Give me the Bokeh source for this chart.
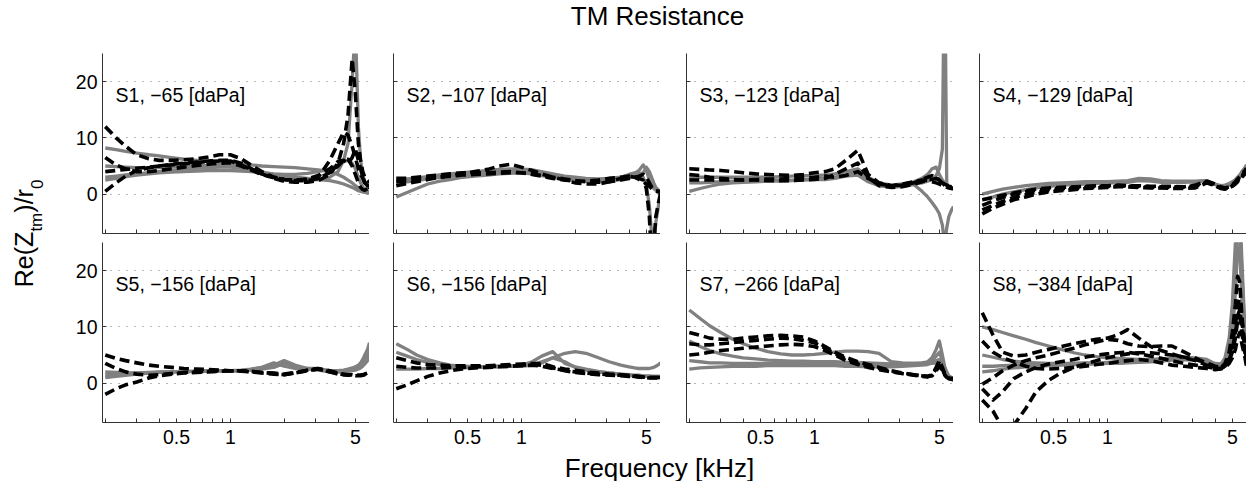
from bokeh.plotting import figure
from bokeh.models import Range1d, FixedTicker, Label
from bokeh.layouts import column, row
from bokeh.embed import file_html
from bokeh.resources import INLINE
from bokeh.core.validation import silence
from bokeh.core.validation.warnings import MISSING_RENDERERS

silence(MISSING_RENDERERS, True)

# ---------------- data ----------------
FREQ = [0.2, 0.23, 0.26, 0.3, 0.35, 0.4, 0.47, 0.55, 0.65, 0.75, 0.87, 1.0, 1.15, 1.3, 1.5, 1.75,
        2.0, 2.3, 2.7, 3.1, 3.6, 4.0, 4.3, 4.55, 4.8, 5.0, 5.2, 5.35, 5.5, 5.65, 5.85, 6.0]

X_TICKS = [0.2, 0.3, 0.4, 0.5, 0.6, 0.7, 0.8, 0.9, 1, 2, 3, 4, 5, 6]
X_TICK_LABELS = {0.5: "0.5", 1: "1", 5: "5"}
Y_TICKS = [0, 10, 20]
PANEL_TITLES = ["S1, \u221265 [daPa]", "S2, \u2212107 [daPa]", "S3, \u2212123 [daPa]", "S4, \u2212129 [daPa]",
                "S5, \u2212156 [daPa]", "S6, \u2212156 [daPa]", "S7, \u2212266 [daPa]", "S8, \u2212384 [daPa]"]

S1_SOLID = [
    [8.2, 7.9, 7.6, 7.3, 7.0, 6.8, 6.5, 6.2, 6.0, 5.8, 5.6, 5.5, 5.3, 5.2, 5.0, 4.9, 4.8, 4.7, 4.5, 4.3, 4.0,
     3.5, 3.0, 2.5, 2.0, 1.5, 1.1, 0.8, 0.5, 0.3, 0.2, 0.2],
    [5.0, 4.9, 4.8, 4.7, 4.7, 4.7, 4.8, 4.9, 5.0, 5.1, 5.1, 5.0, 4.7, 4.2, 3.6, 3.0, 2.7, 2.5, 2.5, 2.6, 3.0,
     4.0, 6.0, 9.0, 20.0, 30.0, 12.0, 6.0, 3.5, 2.2, 1.4, 1.0],
    [3.0, 3.2, 3.4, 3.6, 3.8, 4.0, 4.2, 4.4, 4.6, 4.7, 4.8, 4.8, 4.6, 4.3, 3.9, 3.5, 3.2, 3.0, 2.8, 2.6, 2.4,
     2.1, 1.8, 1.5, 1.2, 0.9, 0.6, 0.5, 0.4, 0.3, 0.3, 0.3],
    [2.5, 2.8, 3.1, 3.4, 3.6, 3.8, 3.9, 4.0, 4.1, 4.2, 4.2, 4.2, 4.1, 4.0, 3.8, 3.6, 3.5, 3.5, 3.7, 4.0, 4.5,
     5.2, 5.8, 6.0, 5.5, 4.5, 3.0, 2.0, 1.3, 0.8, 0.5, 0.3],
]
S1_DASHED = [
    [12.0, 10.0, 8.5, 7.0, 6.3, 6.0, 6.0, 6.1, 6.3, 6.6, 7.0, 7.0, 6.3, 5.2, 4.0, 3.0, 2.6, 2.5, 2.6, 3.0, 6.0,
     9.0, 11.0, 10.5, 8.5, 6.5, 4.5, 3.5, 2.8, 2.0, 1.5, 1.0],
    [0.5, 2.0, 3.2, 4.2, 4.7, 5.0, 5.3, 5.5, 5.7, 5.9, 6.0, 6.0, 5.5, 4.6, 3.6, 2.8, 2.3, 2.1, 2.1, 2.4, 3.5,
     5.5, 9.0, 14.0, 24.0, 18.0, 9.0, 6.0, 4.0, 3.0, 2.5, 2.0],
    [4.0, 4.2, 4.4, 4.6, 4.8, 5.0, 5.2, 5.4, 5.6, 5.8, 5.9, 5.9, 5.2, 4.4, 3.6, 3.0, 2.6, 2.5, 2.7, 3.3, 4.5,
     5.8, 6.0, 5.5, 6.5, 8.0, 6.0, 4.5, 3.0, 2.0, 1.5, 1.5],
    [6.5, 5.2, 4.5, 4.0, 4.0, 4.2, 4.5, 4.8, 5.1, 5.3, 5.5, 5.6, 5.0, 4.3, 3.5, 2.9, 2.6, 2.4, 2.4, 2.8, 3.8,
     5.0, 6.0, 6.2, 5.0, 3.5, 2.0, 1.2, 0.8, 0.7, 1.0, 1.8],
]

S2_SOLID = [
    [2.5, 2.7, 2.9, 3.1, 3.4, 3.6, 3.8, 4.0, 4.2, 4.4, 4.5, 4.5, 4.3, 4.0, 3.6, 3.2, 3.0, 2.8, 2.7, 2.8, 3.0,
     3.5, 3.8, 3.6, 3.8, 4.8, 4.0, 3.0, 2.0, 1.2, 0.7, 0.5],
    [-0.5, 0.3, 1.0, 1.8, 2.3, 2.6, 3.0, 3.2, 3.4, 3.6, 3.7, 3.8, 3.6, 3.3, 3.0, 2.6, 2.4, 2.3, 2.2, 2.4, 2.6,
     2.9, 3.2, 3.6, 3.0, 1.5, -2.0, -7.0, -10.0, -5.0, -2.0, -0.4],
    [2.0, 2.2, 2.4, 2.7, 3.0, 3.2, 3.4, 3.6, 3.8, 4.0, 4.1, 4.1, 3.9, 3.6, 3.3, 2.9, 2.6, 2.4, 2.4, 2.6, 3.0,
     3.4, 3.7, 4.2, 5.2, 4.2, 2.5, 1.5, 1.0, 0.7, 0.6, 0.5],
]
S2_DASHED = [
    [1.5, 1.9, 2.2, 2.6, 3.0, 3.3, 3.6, 4.0, 4.4, 5.0, 5.3, 4.8, 4.2, 3.6, 3.0, 2.5, 2.0, 1.8, 1.8, 2.2, 2.8,
     3.2, 3.0, 2.6, 2.2, 1.8, 1.4, 1.0, 0.7, 0.5, 0.4, 0.4],
    [2.8, 2.8, 3.0, 3.2, 3.4, 3.6, 3.8, 3.8, 3.8, 3.9, 4.0, 3.8, 3.5, 3.2, 2.8, 2.5, 2.3, 2.3, 2.5, 2.8, 3.0,
     3.2, 3.0, 2.8, 2.5, 1.0, -4.0, -12.0, -9.0, -4.0, -1.5, 0.2],
    [2.2, 2.4, 2.6, 2.8, 3.0, 3.2, 3.4, 3.5, 3.6, 3.7, 3.8, 3.8, 3.6, 3.3, 3.0, 2.7, 2.4, 2.2, 2.1, 2.2, 2.5,
     2.8, 3.0, 3.2, 3.5, 3.0, 2.0, 1.3, 0.9, 0.6, 0.5, 0.4],
]

S3_SOLID = [
    [2.0, 2.0, 2.1, 2.2, 2.3, 2.4, 2.4, 2.5, 2.5, 2.5, 2.6, 2.7, 2.8, 3.0, 3.5, 4.2, 2.5, 1.5, 1.3, 1.5, 1.8,
     2.0, 2.3, 2.7, 3.3, 4.5, 8.0, 45.0, 2.0, 1.2, 1.0, 1.0],
    [0.5, 1.0, 1.4, 1.8, 2.0, 2.1, 2.2, 2.3, 2.3, 2.4, 2.5, 2.6, 2.6, 2.8, 3.2, 3.4, 2.2, 1.5, 1.2, 1.4, 1.7,
     0.5, -0.5, -1.5, -2.5, -3.5, -5.5, -9.0, -6.0, -4.0, -2.8, -2.2],
    [3.0, 3.0, 3.0, 3.0, 3.0, 3.0, 3.0, 3.0, 3.1, 3.2, 3.3, 3.3, 3.4, 3.6, 4.0, 4.5, 3.0, 2.0, 1.6, 1.8, 2.2,
     2.8, 3.5, 4.5, 4.8, 3.5, 2.5, 2.0, 1.5, 1.2, 1.0, 1.0],
]
S3_DASHED = [
    [4.5, 4.4, 4.3, 4.2, 4.0, 3.8, 3.6, 3.5, 3.4, 3.3, 3.5, 3.8, 4.0, 4.5, 6.0, 7.8, 3.5, 2.0, 1.5, 1.8, 2.2,
     2.5, 2.4, 2.2, 2.0, 1.8, 1.5, 1.3, 1.2, 1.1, 1.0, 1.0],
    [3.5, 3.3, 3.0, 2.8, 2.6, 2.5, 2.5, 2.4, 2.4, 2.4, 2.5, 2.6, 2.8, 3.5, 4.5, 5.5, 3.0, 1.5, 1.2, 1.3, 1.8,
     2.2, 2.5, 2.6, 2.8, 2.5, 2.0, 1.8, 1.6, 1.4, 1.3, 1.3],
    [2.5, 2.5, 2.5, 2.5, 2.5, 2.5, 2.6, 2.7, 2.7, 2.8, 2.9, 3.0, 3.2, 3.0, 3.3, 4.0, 2.8, 1.8, 1.5, 1.6, 2.0,
     2.6, 3.0, 3.3, 3.0, 2.5, 2.0, 1.6, 1.4, 1.2, 1.1, 1.0],
]

S4_SOLID = [
    [0.0, 0.5, 0.9, 1.2, 1.5, 1.7, 1.9, 2.0, 2.1, 2.2, 2.2, 2.2, 2.3, 2.4, 2.8, 2.7, 2.4, 2.3, 2.3, 2.3, 2.4,
     1.8, 1.5, 1.6, 1.9, 2.2, 2.6, 3.0, 3.4, 4.0, 4.6, 5.2],
    [-1.0, -0.5, 0.0, 0.4, 0.8, 1.1, 1.4, 1.6, 1.7, 1.8, 1.9, 2.0, 2.0, 2.1, 2.4, 2.3, 2.1, 2.1, 2.1, 2.2, 2.4,
     1.7, 1.3, 1.3, 1.6, 1.9, 2.2, 2.6, 3.0, 3.5, 4.0, 4.5],
]
S4_DASHED = [
    [-3.5, -2.5, -1.8, -1.0, -0.5, 0.0, 0.4, 0.6, 0.8, 1.0, 1.1, 1.2, 1.3, 1.3, 1.2, 1.1, 1.1, 1.0, 1.0, 1.1, 2.0,
     1.5, 1.0, 0.9, 1.1, 1.4, 1.8, 2.2, 2.6, 3.0, 3.5, 4.0],
    [-2.0, -1.2, -0.6, 0.0, 0.4, 0.7, 0.9, 1.0, 1.2, 1.3, 1.4, 1.4, 1.5, 1.4, 1.4, 1.3, 1.3, 1.3, 1.3, 1.5, 2.2,
     1.6, 1.1, 1.0, 1.2, 1.6, 2.0, 2.4, 2.9, 3.3, 3.8, 4.2],
    [-1.0, -0.6, -0.2, 0.2, 0.6, 0.9, 1.1, 1.2, 1.3, 1.4, 1.5, 1.5, 1.6, 1.5, 1.5, 1.4, 1.4, 1.4, 1.3, 1.6, 2.3,
     1.8, 1.3, 1.1, 1.3, 1.7, 2.2, 2.7, 3.1, 3.6, 4.1, 4.6],
    [-2.8, -2.0, -1.3, -0.6, -0.1, 0.3, 0.6, 0.8, 1.0, 1.1, 1.2, 1.3, 1.4, 1.4, 1.3, 1.2, 1.2, 1.2, 1.2, 1.3, 2.1,
     1.5, 1.1, 0.9, 1.2, 1.5, 1.9, 2.3, 2.8, 3.2, 3.7, 4.1],
]

S5_SOLID = [
    [1.0, 1.2, 1.4, 1.6, 1.8, 1.9, 2.0, 2.1, 2.1, 2.2, 2.2, 2.2, 2.3, 2.5, 2.8, 3.2, 4.0, 3.2, 2.6, 2.6, 2.2,
     2.2, 2.3, 2.5, 2.7, 2.9, 3.2, 3.6, 4.2, 5.0, 6.0, 7.2],
    [1.5, 1.6, 1.7, 1.8, 1.9, 2.0, 2.0, 2.1, 2.1, 2.2, 2.2, 2.2, 2.2, 2.4, 2.8, 3.6, 3.0, 2.6, 2.6, 2.5, 2.2,
     2.0, 2.1, 2.3, 2.5, 2.7, 2.9, 3.2, 3.6, 4.2, 5.0, 6.0],
    [2.0, 1.9, 1.8, 1.8, 1.8, 1.9, 2.0, 2.0, 2.1, 2.1, 2.2, 2.2, 2.2, 2.3, 2.5, 2.8, 3.5, 3.0, 2.5, 2.3, 2.0,
     2.0, 2.0, 2.1, 2.2, 2.3, 2.5, 2.7, 3.0, 3.4, 4.0, 5.0],
]
S5_DASHED = [
    [5.0, 4.4, 4.0, 3.6, 3.2, 3.0, 2.8, 2.6, 2.5, 2.4, 2.3, 2.2, 2.1, 2.0, 1.8, 1.6, 1.5, 1.8, 2.3, 2.5, 2.0,
     1.6, 1.5, 1.5, 1.5, 1.4, 1.4, 1.4, 1.5, 1.6, 1.8, 2.0],
    [-2.0, -1.0, -0.3, 0.2, 0.9, 1.3, 1.6, 1.8, 1.9, 2.0, 2.1, 2.2, 2.2, 2.1, 1.9, 1.7, 1.5, 1.8, 2.2, 2.5, 2.0,
     1.7, 1.5, 1.4, 1.4, 1.3, 1.3, 1.3, 1.4, 1.5, 1.6, 1.8],
    [3.5, 2.6, 2.0, 1.6, 1.4, 1.5, 1.7, 1.9, 2.0, 2.1, 2.2, 2.2, 2.2, 2.0, 1.9, 1.8, 1.6, 1.9, 2.3, 2.6, 2.2,
     1.8, 1.6, 1.5, 1.5, 1.4, 1.4, 1.4, 1.5, 1.6, 1.8, 2.0],
]

S6_SOLID = [
    [7.0, 6.0, 5.0, 4.2, 3.6, 3.2, 3.0, 2.9, 2.9, 3.0, 3.0, 3.1, 3.2, 3.6, 4.5, 5.3, 5.6, 5.3, 4.5, 3.8, 3.2,
     2.9, 2.7, 2.6, 2.6, 2.6, 2.6, 2.7, 2.8, 3.0, 3.3, 3.6],
    [5.5, 4.8, 4.2, 3.7, 3.3, 3.1, 3.0, 2.9, 2.9, 3.0, 3.0, 3.2, 3.8, 4.8, 5.6, 3.5, 2.9, 2.5, 2.1, 1.8, 1.6,
     1.5, 1.4, 1.4, 1.3, 1.3, 1.3, 1.2, 1.2, 1.2, 1.2, 1.2],
    [2.5, 2.5, 2.5, 2.6, 2.6, 2.7, 2.7, 2.8, 2.8, 2.9, 3.0, 3.0, 3.2, 3.8, 4.5, 3.8, 2.8, 2.3, 2.0, 1.8, 1.6,
     1.4, 1.3, 1.3, 1.2, 1.2, 1.2, 1.2, 1.2, 1.2, 1.2, 1.2],
]
S6_DASHED = [
    [4.5, 4.0, 3.6, 3.3, 3.2, 3.1, 3.1, 3.1, 3.1, 3.2, 3.3, 3.4, 3.5, 3.5, 2.9, 2.5, 2.3, 2.0, 1.8, 1.6, 1.5,
     1.4, 1.3, 1.2, 1.1, 1.1, 1.0, 1.0, 1.0, 1.0, 1.0, 1.0],
    [-1.0, -0.3, 0.4, 1.2, 1.8, 2.2, 2.5, 2.7, 2.8, 2.9, 3.0, 3.1, 3.2, 3.0, 2.6, 2.3, 2.0, 1.8, 1.6, 1.5, 1.4,
     1.3, 1.2, 1.1, 1.0, 1.0, 0.9, 0.9, 0.9, 0.9, 0.9, 0.9],
    [3.0, 2.8, 2.7, 2.7, 2.7, 2.8, 2.8, 2.9, 3.0, 3.0, 3.1, 3.2, 3.3, 3.2, 2.7, 2.2, 1.9, 1.7, 1.5, 1.4, 1.3,
     1.2, 1.2, 1.1, 1.1, 1.0, 1.0, 1.0, 1.0, 1.0, 1.0, 1.0],
]

S7_SOLID = [
    [13.0, 11.5, 10.2, 9.0, 7.8, 7.0, 6.2, 5.6, 5.2, 5.0, 5.0, 5.1, 5.3, 5.5, 5.7, 5.7, 5.6, 5.3, 3.8, 3.6, 3.5,
     3.5, 3.5, 3.5, 3.6, 3.5, 3.0, 2.3, 1.6, 1.0, 0.8, 0.7],
    [7.5, 6.5, 5.8, 5.2, 4.8, 4.5, 4.3, 4.1, 4.0, 3.9, 3.9, 3.8, 3.8, 3.8, 3.7, 3.7, 3.6, 3.5, 3.4, 3.4, 3.5,
     3.6, 3.8, 4.5, 6.0, 7.5, 5.0, 3.0, 2.0, 1.3, 1.0, 0.8],
    [4.0, 3.8, 3.6, 3.6, 3.5, 3.5, 3.5, 3.5, 3.5, 3.5, 3.4, 3.4, 3.4, 3.3, 3.2, 3.2, 3.1, 3.1, 3.1, 3.2, 3.3,
     3.5, 3.6, 4.0, 4.8, 5.5, 4.0, 2.5, 1.5, 1.0, 0.7, 0.6],
    [2.5, 2.7, 2.8, 2.9, 3.0, 3.0, 3.0, 3.1, 3.1, 3.1, 3.1, 3.1, 3.1, 3.1, 3.0, 3.0, 2.9, 2.9, 2.9, 3.0, 3.1,
     3.2, 3.3, 3.6, 4.0, 4.2, 3.2, 2.0, 1.2, 0.8, 0.6, 0.5],
]
S7_DASHED = [
    [9.0, 8.5, 8.0, 7.8, 7.8, 8.0, 8.2, 8.4, 8.5, 8.4, 8.2, 7.5, 6.5, 5.5, 4.6, 3.8, 3.3, 2.8, 2.2, 1.8, 1.5,
     1.3, 1.2, 1.5, 2.5, 3.5, 2.5, 1.5, 1.0, 0.8, 0.8, 0.8],
    [7.0, 6.8, 6.8, 7.0, 7.2, 7.4, 7.6, 7.8, 8.0, 7.9, 7.6, 7.2, 6.2, 5.3, 4.3, 3.5, 3.0, 2.6, 2.1, 1.7, 1.4,
     1.2, 1.1, 1.4, 2.8, 4.0, 2.8, 1.8, 1.2, 0.9, 0.8, 0.8],
    [5.0, 5.2, 5.5, 5.8, 6.0, 6.2, 6.4, 6.6, 6.8, 6.9, 6.8, 6.5, 5.8, 5.0, 4.0, 3.3, 2.8, 2.4, 2.0, 1.7, 1.5,
     1.3, 1.2, 1.3, 2.2, 3.0, 2.3, 1.5, 1.0, 0.8, 0.7, 0.7],
]

S8_SOLID = [
    [10.0, 9.5, 9.0, 8.4, 7.8, 7.2, 6.6, 6.0, 5.4, 5.0, 4.7, 4.5, 4.4, 4.3, 4.2, 4.2, 4.3, 4.4, 4.4, 4.3, 4.0,
     3.5, 3.4, 4.0, 6.0, 10.0, 18.0, 26.0, 30.0, 20.0, 10.0, 5.5],
    [5.0, 4.6, 4.2, 3.9, 3.7, 3.6, 3.5, 3.5, 3.5, 3.6, 3.6, 3.7, 3.8, 3.9, 4.0, 4.1, 4.3, 4.5, 4.6, 4.5, 4.2,
     3.4, 3.3, 4.5, 8.0, 14.0, 25.0, 32.0, 32.0, 22.0, 11.0, 6.0],
    [3.0, 3.0, 3.1, 3.2, 3.3, 3.3, 3.4, 3.4, 3.5, 3.5, 3.5, 3.6, 3.6, 3.7, 3.8, 3.9, 4.0, 4.2, 4.3, 4.2, 3.9,
     3.3, 3.2, 4.0, 7.0, 12.0, 22.0, 30.0, 28.0, 18.0, 9.0, 5.0],
    [2.0, 2.2, 2.5, 2.7, 2.9, 3.0, 3.1, 3.2, 3.3, 3.4, 3.4, 3.5, 3.5, 3.6, 3.7, 3.8, 3.9, 4.1, 4.2, 4.1, 3.8,
     3.2, 3.1, 3.6, 5.5, 9.0, 16.0, 24.0, 24.0, 15.0, 8.0, 4.5],
]
S8_DASHED = [
    [12.5, 8.5, 5.5, 4.8, 5.0, 5.5, 6.0, 6.5, 7.0, 7.4, 7.8, 8.0, 8.6, 9.5, 8.0, 6.5, 5.8, 5.2, 4.5, 4.0, 3.2,
     2.6, 2.6, 3.0, 4.0, 6.0, 9.0, 12.0, 13.0, 10.0, 7.0, 5.0],
    [-0.2, 1.0, 2.2, 3.2, 4.0, 4.5, 5.0, 5.6, 6.2, 6.8, 7.3, 7.8, 7.6, 7.0, 6.6, 6.5, 6.6, 6.6, 5.5, 4.5, 3.5,
     2.8, 2.7, 3.5, 5.5, 9.0, 14.0, 19.0, 18.0, 12.0, 7.0, 4.5],
    [-3.0, -5.0, -8.0, -7.5, -4.5, -1.5, 0.5, 1.8, 2.8, 3.4, 4.0, 4.5, 4.9, 5.2, 5.4, 5.4, 5.2, 5.0, 4.6, 4.2, 3.6,
     3.0, 2.8, 3.2, 4.5, 7.0, 10.0, 14.0, 15.0, 11.0, 7.0, 4.0],
    [-1.0, -3.0, -1.5, 0.8, 2.0, 2.8, 3.4, 3.8, 4.2, 4.6, 5.0, 5.2, 5.4, 5.5, 5.2, 4.8, 4.4, 4.0, 3.5, 3.2, 2.9,
     2.6, 2.6, 3.0, 4.0, 5.5, 8.0, 11.0, 12.0, 9.0, 6.0, 3.5],
    [7.5, 5.5, 4.5, 3.8, 3.0, 2.6, 2.5, 2.6, 2.8, 3.0, 3.3, 3.5, 3.8, 4.0, 4.2, 4.0, 3.6, 3.2, 3.0, 2.8, 2.6,
     2.4, 2.5, 2.8, 3.5, 4.5, 6.0, 8.0, 9.0, 7.0, 5.0, 3.0],
]

SOLID = [S1_SOLID, S2_SOLID, S3_SOLID, S4_SOLID, S5_SOLID, S6_SOLID, S7_SOLID, S8_SOLID]
DASHED = [S1_DASHED, S2_DASHED, S3_DASHED, S4_DASHED, S5_DASHED, S6_DASHED, S7_DASHED, S8_DASHED]

# ---------------- style ----------------
FONT = "Liberation Sans"
AXIS_COLOR = "#333333"
GRAY = "#808080"
FRAME_W, FRAME_H = 267, 180
LEFT_BORDERS = [44, 24, 26, 26]
YLAB_W = 58
TOTAL_W = YLAB_W + sum(LEFT_BORDERS) + 4 * FRAME_W
TITLE_H = 53
XLAB_H = 29


def make_panel(i):
    r, c = divmod(i, 4)
    bottom = 9 if r == 0 else 30
    p = figure(frame_width=FRAME_W, frame_height=FRAME_H, x_axis_type="log",
               x_range=Range1d(0.193, 6.0), y_range=Range1d(-7, 25),
               toolbar_location=None, output_backend="svg", title=None,
               min_border_left=LEFT_BORDERS[c], min_border_right=0,
               min_border_top=0, min_border_bottom=bottom)
    p.outline_line_color = None
    p.background_fill_color = "white"
    p.border_fill_color = "white"

    p.xgrid.visible = False
    p.ygrid.ticker = FixedTicker(ticks=Y_TICKS)
    p.ygrid.grid_line_color = "#6e6e6e"
    p.ygrid.grid_line_dash = "1 7"
    p.ygrid.grid_line_width = 1

    for ax in (p.xaxis[0], p.yaxis[0]):
        ax.axis_line_color = AXIS_COLOR
        ax.axis_line_width = 1
        ax.major_tick_line_color = AXIS_COLOR
        ax.major_tick_in = 4
        ax.major_tick_out = 0
        ax.minor_tick_line_color = None
        ax.major_label_text_font = FONT
        ax.major_label_text_font_size = "19.5px"
        ax.major_label_text_color = "black"

    xa = p.xaxis[0]
    xa.ticker = FixedTicker(ticks=X_TICKS, minor_ticks=[])
    overrides = {t: "" for t in X_TICKS}
    overrides.update(X_TICK_LABELS)
    xa.major_label_overrides = overrides
    xa.major_label_standoff = 7
    if r == 0:
        # ticks only, no tick labels on the upper row
        xa.major_label_text_color = None
        xa.major_label_standoff = 0

    ya = p.yaxis[0]
    ya.ticker = FixedTicker(ticks=Y_TICKS, minor_ticks=[])
    ya.major_label_standoff = 5
    if c != 0:
        # ticks only, no tick labels on inner panels
        ya.major_label_text_color = None
        ya.major_label_standoff = 0

    for ys in SOLID[i]:
        p.line(FREQ, ys, line_color=GRAY, line_width=3.3, line_join="round")
    for ys in DASHED[i]:
        p.line(FREQ, ys, line_color="black", line_width=3.6, line_dash="10 5", line_join="round")

    p.add_layout(Label(x=0.2283, y=17.7, text=PANEL_TITLES[i], text_font=FONT,
                       text_font_size="19.5px", text_color="black",
                       text_align="left", text_baseline="alphabetic"))
    return p


def blank(w, h):
    p = figure(width=w, height=h, x_range=Range1d(0, w), y_range=Range1d(0, h),
               x_axis_location=None, y_axis_location=None, toolbar_location=None,
               output_backend="svg", title=None, min_border=0)
    p.outline_line_color = None
    p.grid.visible = False
    p.background_fill_color = "white"
    p.border_fill_color = "white"
    return p


panels = [make_panel(i) for i in range(8)]

# title
title_fig = blank(TOTAL_W, TITLE_H)
title_fig.add_layout(Label(x=657, y=TITLE_H - 15, text="TM Resistance", text_font=FONT, text_font_size="26px",
                           text_color="black", text_align="center", text_baseline="alphabetic"))

# y label (with subscripts), rotated
ylab_h = (FRAME_H + 9) + (FRAME_H + 30)
ylab_fig = blank(YLAB_W, ylab_h)
pieces = [("Re(Z", "25px", 23.5, 165.3), ("tm", "17px", 36, 220.9),
          (")/r", "25px", 23.5, 239.8), ("0", "17px", 36, 263.4)]
for txt, fs, bx, by in pieces:
    ylab_fig.add_layout(Label(x=bx, y=by, text=txt, angle=1.5707963, text_font=FONT,
                              text_font_size=fs, text_color="black",
                              text_align="left", text_baseline="alphabetic"))

# x label
xlab_fig = blank(TOTAL_W, XLAB_H)
xlab_fig.add_layout(Label(x=659, y=14, text="Frequency [kHz]", text_font=FONT, text_font_size="26px",
                          text_color="black", text_align="center", text_baseline="alphabetic"))

grid = column(row(*panels[:4], spacing=0), row(*panels[4:], spacing=0), spacing=0)
layout = column(title_fig, row(ylab_fig, grid, spacing=0), xlab_fig, spacing=0)

open("out.html", "w").write(file_html(layout, INLINE))
